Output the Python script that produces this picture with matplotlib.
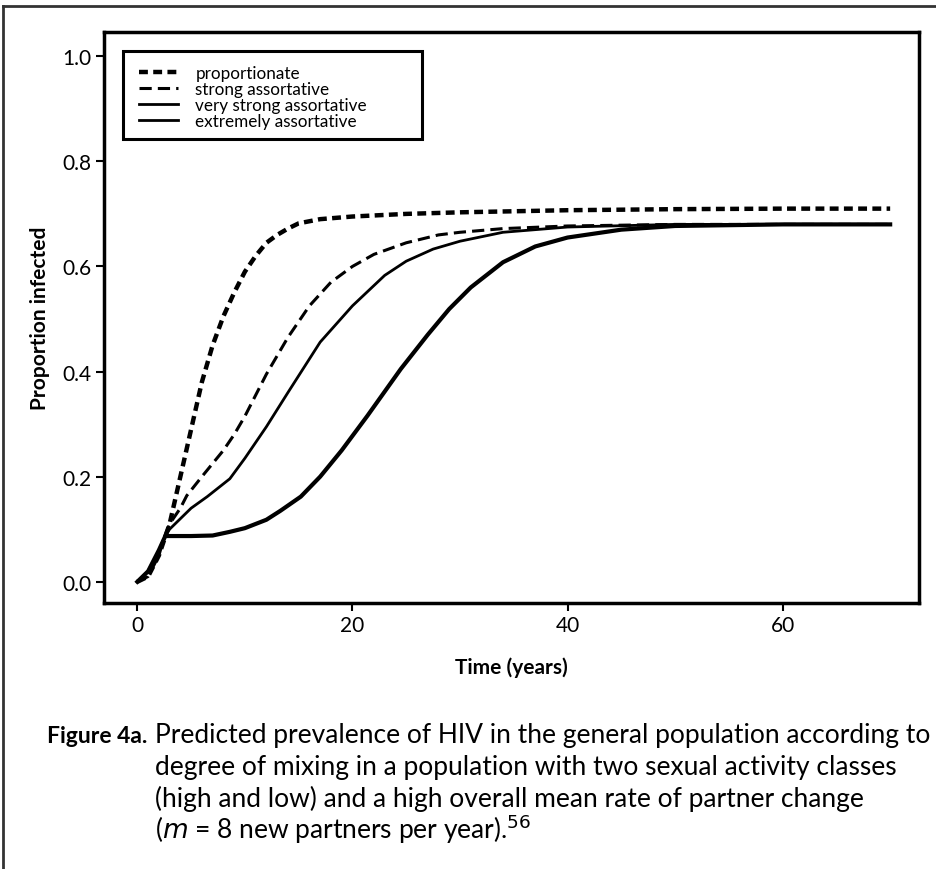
import matplotlib.pyplot as plt
from matplotlib.lines import Line2D
from matplotlib.patches import Rectangle

plt.rcParams['font.family'] = ['Lato', 'DejaVu Sans']

# curves (time in years, proportion infected)
t_prop = [0, 1, 2, 2.5, 3, 4, 5, 6, 7, 8, 9, 10, 11, 12, 13, 14, 15, 17, 20, 25, 30, 40, 50, 60, 70]
y_prop = [0.0, 0.01, 0.05, 0.08, 0.11, 0.2, 0.29, 0.38, 0.45, 0.505, 0.55, 0.59, 0.62, 0.645,
          0.66, 0.672, 0.682, 0.69, 0.695, 0.70, 0.703, 0.707, 0.709, 0.71, 0.71]

t_strong = [0, 1, 2, 2.5, 3, 4, 4.6, 6, 8, 9, 10, 12, 13, 14, 16, 18, 20, 22, 25, 28, 30, 34, 40, 50, 70]
y_strong = [0.0, 0.01, 0.05, 0.085, 0.11, 0.14, 0.164, 0.2, 0.25, 0.28, 0.315, 0.395, 0.43, 0.465,
            0.525, 0.57, 0.6, 0.623, 0.645, 0.66, 0.665, 0.672, 0.677, 0.68, 0.68]

t_vstrong = [0, 1, 2, 2.6, 3, 4, 5, 6.5, 8.6, 10, 12, 14, 17, 20, 23, 25, 27.5, 30, 34, 40, 50, 70]
y_vstrong = [0.0, 0.02, 0.06, 0.087, 0.1, 0.12, 0.14, 0.162, 0.196, 0.235, 0.295, 0.36, 0.456, 0.525,
             0.583, 0.61, 0.633, 0.648, 0.665, 0.675, 0.68, 0.68]

t_extreme = [0, 1, 2, 2.6, 5, 7, 8.6, 10, 12, 13.3, 15.2, 17, 19, 21.4, 24.5, 27, 29, 31, 34, 37, 40, 45, 50, 60, 70]
y_extreme = [0.0, 0.02, 0.06, 0.087, 0.087, 0.088, 0.095, 0.102, 0.118, 0.135, 0.162, 0.2, 0.25, 0.316,
             0.405, 0.47, 0.519, 0.56, 0.608, 0.638, 0.655, 0.67, 0.677, 0.68, 0.68]

labels = ['proportionate', 'strong assortative', 'very strong assortative', 'extremely assortative']

x_ticks = [0, 20, 40, 60]
y_ticks = [0.0, 0.2, 0.4, 0.6, 0.8, 1.0]

fig = plt.figure(figsize=(9.37, 8.70), dpi=100)
ax = fig.add_axes([0.111, 0.306, 0.870, 0.656])

ax.plot(t_prop, y_prop, color='black', lw=3.2, ls=(0, (2.0, 1.2)))
ax.plot(t_strong, y_strong, color='black', lw=2.2, ls=(0, (4, 2)))
ax.plot(t_vstrong, y_vstrong, color='black', lw=2.0)
ax.plot(t_extreme, y_extreme, color='black', lw=3.0)

ax.set_xlim(-3.1, 72.7)
ax.set_ylim(-0.04, 1.046)
ax.set_xticks(x_ticks)
ax.set_yticks(y_ticks)
ax.set_yticklabels(['%.1f' % v for v in y_ticks])
ax.tick_params(direction='out', length=6, width=1.5, labelsize=15, colors='black', pad=3)
for s in ax.spines.values():
    s.set_linewidth(2.5)

ax.set_xlabel('Time (years)', fontsize=15, fontweight='bold', labelpad=15)
ax.set_ylabel('Proportion infected', fontsize=15, fontweight='bold', labelpad=9)

handles = [
    Line2D([], [], color='black', lw=3.2, ls=(0, (2.0, 1.2))),
    Line2D([], [], color='black', lw=2.2, ls=(0, (4, 2))),
    Line2D([], [], color='black', lw=2.0),
    Line2D([], [], color='black', lw=2.0),
]
leg = ax.legend(handles, labels, loc='upper left', bbox_to_anchor=(0.043, 0.942),
                fontsize=12.3, frameon=False, handlelength=2.3, borderpad=0,
                borderaxespad=0, labelspacing=0.0, handletextpad=1.0)
ax.add_patch(Rectangle((0.0233, 0.8126), 0.3667, 0.1544, transform=ax.transAxes,
                       fill=False, lw=2.2, edgecolor='black', zorder=5))

# outer frame of the figure panel
fig.add_artist(Line2D([3 / 937, 3 / 937], [0, 1 - 7 / 870], transform=fig.transFigure, color='#333333', lw=2))
fig.add_artist(Line2D([3 / 937, 1], [1 - 7 / 870, 1 - 7 / 870], transform=fig.transFigure, color='#333333', lw=2))

# caption
fig.text(47 / 937, 1 - 743 / 870, 'Figure 4a.', fontsize=16.5, fontweight='bold', va='baseline')
cap = ['Predicted prevalence of HIV in the general population according to',
       'degree of mixing in a population with two sexual activity classes',
       '(high and low) and a high overall mean rate of partner change',
       '($m$ = 8 new partners per year).$^{56}$']
cap_y = [743, 775, 807, 839]
for line, yy in zip(cap, cap_y):
    fig.text(155 / 937, 1 - yy / 870, line, fontsize=19, va='baseline')

fig.savefig('out.png', dpi=100)
